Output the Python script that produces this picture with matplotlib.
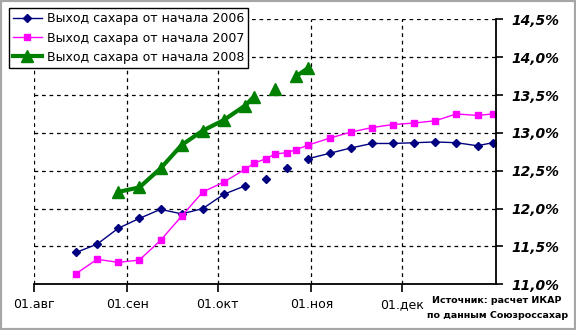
import numpy as np
import matplotlib.pyplot as plt
from matplotlib.patches import Rectangle

# days counted from 01 Aug
days = [14, 21, 28, 35, 42, 49, 56, 63, 70, 73, 77, 80, 84, 87, 91,
        98, 105, 112, 119, 126, 133, 140, 147, 152]
nan = np.nan
y2006 = [11.42, 11.53, 11.74, 11.87, 11.99, 11.93, 12.00, 12.19, 12.30, nan, 12.39, nan, 12.54, nan, 12.66,
         12.73, 12.80, 12.86, 12.86, 12.87, 12.88, 12.87, 12.83, 12.87]
y2007 = [11.14, 11.33, 11.29, 11.32, 11.58, 11.90, 12.22, 12.35, 12.52, 12.60, 12.66, 12.72, 12.74, 12.78, 12.84,
         12.93, 13.01, 13.07, 13.11, 13.13, 13.16, 13.25, 13.23, 13.25]
y2008 = [nan, nan, 12.22, 12.28, 12.53, 12.84, 13.03, 13.17, 13.36, 13.48, nan, 13.58, nan, 13.75, 13.86,
         nan, nan, nan, nan, nan, nan, nan, nan, nan]

month_days = [0, 31, 61, 92, 122]
month_labels = ["01.авг", "01.сен", "01.окт", "01.ноя", "01.дек"]
yticks = [11.0, 11.5, 12.0, 12.5, 13.0, 13.5, 14.0, 14.5]

fig = plt.figure(figsize=(5.76, 3.3), dpi=100)
ax = fig.add_axes([0.0585, 0.1385, 0.802, 0.803])

ax.plot(days, y2006, color="#000080", lw=1, marker="D", ms=4, label="Выход сахара от начала 2006")
ax.plot(days, y2007, color="#ff00ff", lw=1, marker="s", ms=5, label="Выход сахара от начала 2007")
ax.plot(days, y2008, color="#008000", lw=3, marker="^", ms=9, label="Выход сахара от начала 2008")

ax.set_xlim(0, 153)
ax.set_ylim(11.0, 14.5)
ax.set_xticks(month_days)
ax.set_xticklabels(month_labels, fontsize=9)
ax.set_yticks(yticks)
ax.set_yticklabels([("%.1f%%" % v).replace(".", ",") for v in yticks],
                   fontsize=10, fontweight="bold", fontstyle="italic")
ax.yaxis.tick_right()
ax.tick_params(axis="x", direction="out", length=6, width=1.2, pad=4)
ax.tick_params(axis="y", direction="out", length=5, width=1.2, pad=6)

for s in ["left", "top"]:
    ax.spines[s].set_visible(False)
for s in ["bottom", "right"]:
    ax.spines[s].set_linewidth(1.3)

ax.grid(True, color="black", lw=0.9, linestyle=(0, (3, 3)))
ax.set_axisbelow(True)

fig.legend(loc="upper left", bbox_to_anchor=(0.004, 0.995), fontsize=9, frameon=True,
           fancybox=False, edgecolor="black", framealpha=1, borderpad=0.35,
           labelspacing=0.5, handlelength=2.3, handletextpad=0.4)

fig.text(0.863, 0.09, "Источник: расчет ИКАР", fontsize=6.8, fontweight="bold", ha="center", va="center")
fig.text(0.863, 0.045, "по данным Союзроссахар", fontsize=6.8, fontweight="bold", ha="center", va="center")

fig.patches.append(Rectangle((0, 0), 1, 1, transform=fig.transFigure, fill=False,
                             edgecolor="#a6a6a6", lw=3))

fig.savefig("out.png", dpi=100)
